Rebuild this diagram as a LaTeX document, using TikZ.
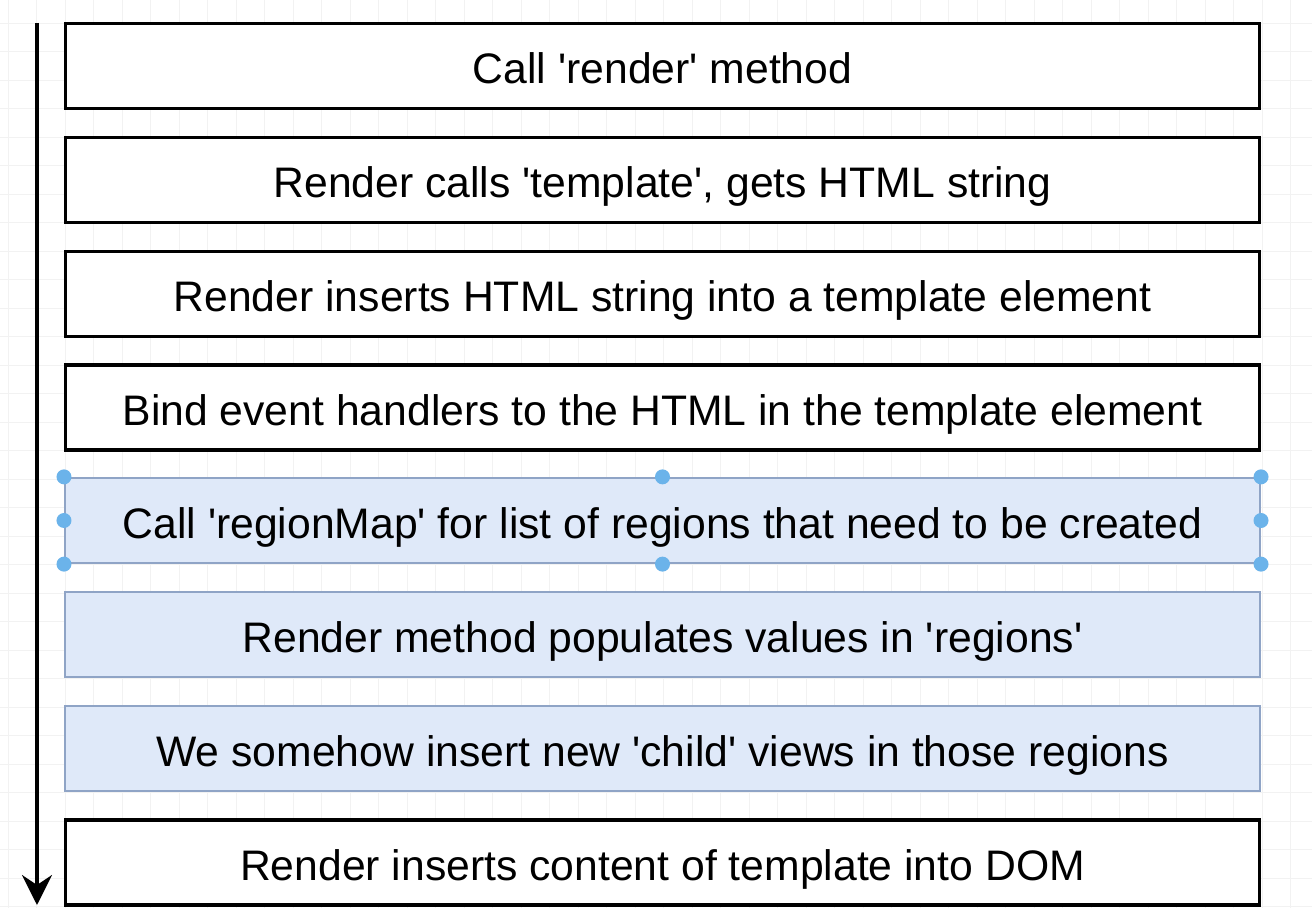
\documentclass[tikz,border=0pt]{standalone}
\usepackage{fontspec}
\setmainfont{Liberation Sans}
\usetikzlibrary{positioning,arrows.meta}
\definecolor{selfill}{HTML}{DFE9F9}
\definecolor{selline}{HTML}{8FA4C6}
\definecolor{handle}{HTML}{6BB3EA}
\newcommand{\q}{\textquotesingle}

\begin{document}
\begin{tikzpicture}[x=0.02cm,y=0.02cm,
  stepbox/.style={draw=black,line width=1.8pt,fill=white,minimum width=23.9cm,minimum height=1.7cm,
    inner sep=0pt,text height=0.9cm,text depth=0.18cm,font=\fontsize{24.3}{28}\selectfont},
  bluebox/.style={stepbox,draw=selline,line width=1.3pt,fill=selfill},
  flow/.style={line width=1.9pt,-{Stealth[length=0.6cm,width=0.6cm,inset=0.2cm]}},
  gridline/.style={draw=black!5,line width=0.4pt},
  grip/.style={circle,fill=handle,inner sep=0pt,minimum size=0.3cm}]
\useasboundingbox (0,0) rectangle (1312,-908);
% Grid
\foreach \i in {0,...,46} \draw[gridline] (8+28.5*\i,0) -- (8+28.5*\i,-908);
\foreach \j in {0,...,32} \draw[gridline] (0,5.5-28.5*\j) -- (1312,5.5-28.5*\j);
% Steps
\node[stepbox] (render) at (662.5,-66) {Call \q render\q{} method};
\node[stepbox] (template) at (662.5,-180) {Render calls \q template\q, gets HTML string};
\node[stepbox] (insert) at (662.5,-294) {Render inserts HTML string into a template element};
\node[stepbox] (bind) at (662.5,-407.5) {Bind event handlers to the HTML in the template element};
\node[bluebox] (regionmap) at (662.5,-520.5) {Call \q regionMap\q{} for list of regions that need to be created};
\node[bluebox] (populate) at (662.5,-634.5) {Render method populates values in \q regions\q};
\node[bluebox] (children) at (662.5,-748.5) {We somehow insert new \q child\q{} views in those regions};
\node[stepbox] (dom) at (662.5,-862.5) {Render inserts content of template into DOM};
% Selection handles
\foreach \a in {north west,north,north east,west,east,south west,south,south east}
  \node[grip] at (regionmap.\a) {};
% Time arrow
\coordinate (start) at (37,-23);
\coordinate (finish) at (37,-905);
\draw[flow] (start) -- (finish);
\end{tikzpicture}
\end{document}
